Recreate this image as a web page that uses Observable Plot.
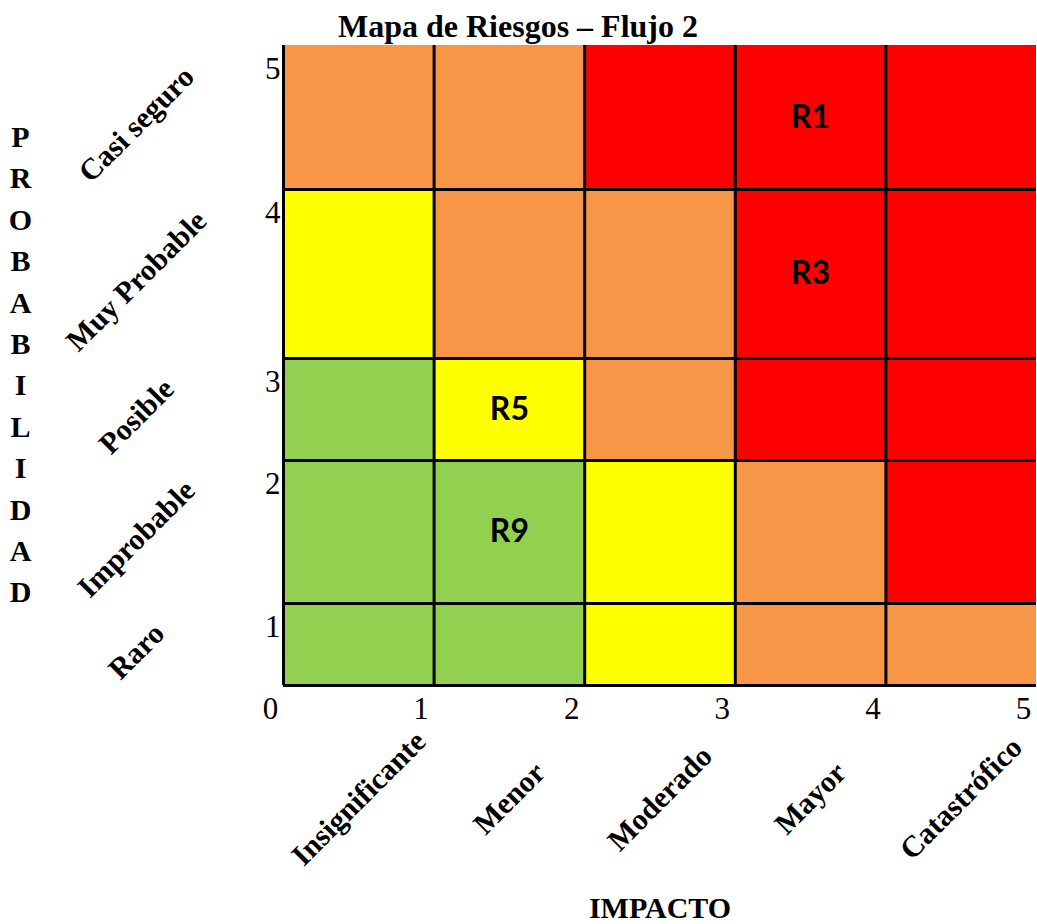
<!DOCTYPE html>
<html><head><meta charset="utf-8">
<script src="https://cdn.jsdelivr.net/npm/d3@7"></script>
<script src="https://cdn.jsdelivr.net/npm/@observablehq/plot@0.6"></script>
<style>body{margin:0;background:#fff}</style>
</head><body><div id="chart"></div>
<script>
const titleText = "Mapa de Riesgos – Flujo 2";
const impactLabels = ["Insignificante", "Menor", "Moderado", "Mayor", "Catastrófico"];
const probLabels = ["Raro", "Improbable", "Posible", "Muy Probable", "Casi seguro"]; // probabilidad 1..5
const probTitle = "PROBABILIDAD";
const impactTitle = "IMPACTO";
const levelColors = {bajo: "#92D050", medio: "#FFFF00", alto: "#F79646", extremo: "#FF0000"};
// rows: probabilidad 1..5, columns: impacto 1..5
const riskLevels = [
  ["bajo", "bajo", "medio", "alto", "alto"],
  ["bajo", "bajo", "medio", "alto", "extremo"],
  ["bajo", "medio", "alto", "extremo", "extremo"],
  ["medio", "alto", "alto", "extremo", "extremo"],
  ["alto", "alto", "extremo", "extremo", "extremo"]
];
const risks = ["R1", "R3", "R5", "R9"];
const riskImpact = [4, 4, 2, 2];
const riskProb = [5, 4, 3, 2];
const xTicks = [0, 1, 2, 3, 4, 5];
const yTicks = [1, 2, 3, 4, 5];

const cells = [];
riskLevels.forEach((row, pi) => row.forEach((lvl, ii) => cells.push({prob: pi + 1, impact: ii + 1, level: lvl})));
const riskData = risks.map((r, i) => ({name: r, impact: riskImpact[i], prob: riskProb[i]}));

const serif = "'Liberation Serif', 'Times New Roman', serif";
const sans = "Lato, 'Open Sans', sans-serif";
const fmt = d => String(d);

const chart = Plot.plot({
  width: 1037,
  height: 924,
  marginLeft: 283,
  marginRight: 1,
  marginTop: 45,
  marginBottom: 239,
  style: {fontFamily: serif, fontSize: "30px", background: "#fff"},
  x: {type: "linear", domain: [0, 5]},
  y: {type: "linear", domain: [0, 1, 2, 3, 4, 5], range: [685, 603, 460, 358, 189, 45]},
  marks: [
    Plot.rect(cells, {x1: d => d.impact - 1, x2: "impact", y1: d => d.prob - 1, y2: "prob", fill: d => levelColors[d.level]}),
    Plot.ruleX([1, 2, 3, 4], {y1: 0, y2: 5, stroke: "#000", strokeWidth: 3}),
    Plot.ruleY([1, 2, 3, 4], {x1: 0, x2: 5, stroke: "#000", strokeWidth: 3}),
    Plot.ruleX([0], {y1: 0, y2: 5, stroke: "#000", strokeWidth: 3}),
    Plot.ruleY([0], {x1: 0, x2: 5, stroke: "#000", strokeWidth: 3}),
    Plot.text(riskData, {x: d => d.impact - 0.5, y: d => d.prob - 0.5, text: "name", fontFamily: sans, fontWeight: "bold", fontSize: 32, fill: "#000"}),
    Plot.axisY(yTicks, {tickSize: 0, tickPadding: 3, dy: 24, label: null, tickFormat: fmt, fontSize: 31, fontFamily: serif}),
    Plot.axisX(xTicks, {tickSize: 0, tickPadding: 11, dx: -13, label: null, tickFormat: fmt, fontSize: 31, fontFamily: serif}),
    Plot.text(probLabels, {y: (d, i) => i + 0.5, frameAnchor: "left", textAnchor: "middle", lineAnchor: "middle", dx: -147, dy: 7, rotate: -45, fontWeight: "bold", fontSize: 30, fontFamily: serif}),
    Plot.text(impactLabels, {x: (d, i) => i + 0.5, frameAnchor: "bottom", textAnchor: "middle", lineAnchor: "middle", dy: 113, rotate: -45, fontWeight: "bold", fontSize: 30, fontFamily: serif}),
    Plot.text([probTitle.split("").join("\n")], {frameAnchor: "left", textAnchor: "middle", lineAnchor: "middle", dx: -263, dy: -4, fontWeight: "bold", fontSize: 30, lineHeight: 1.38, fontFamily: serif}),
    Plot.text([impactTitle], {frameAnchor: "bottom", textAnchor: "middle", lineAnchor: "middle", dy: 223, fontWeight: "bold", fontSize: 30, fontFamily: serif}),
    Plot.text([titleText], {frameAnchor: "top", textAnchor: "middle", lineAnchor: "middle", dx: -142, dy: -19, fontWeight: "bold", fontSize: 32, fontFamily: serif})
  ]
});
document.getElementById("chart").appendChild(chart);
</script>
</body></html>
